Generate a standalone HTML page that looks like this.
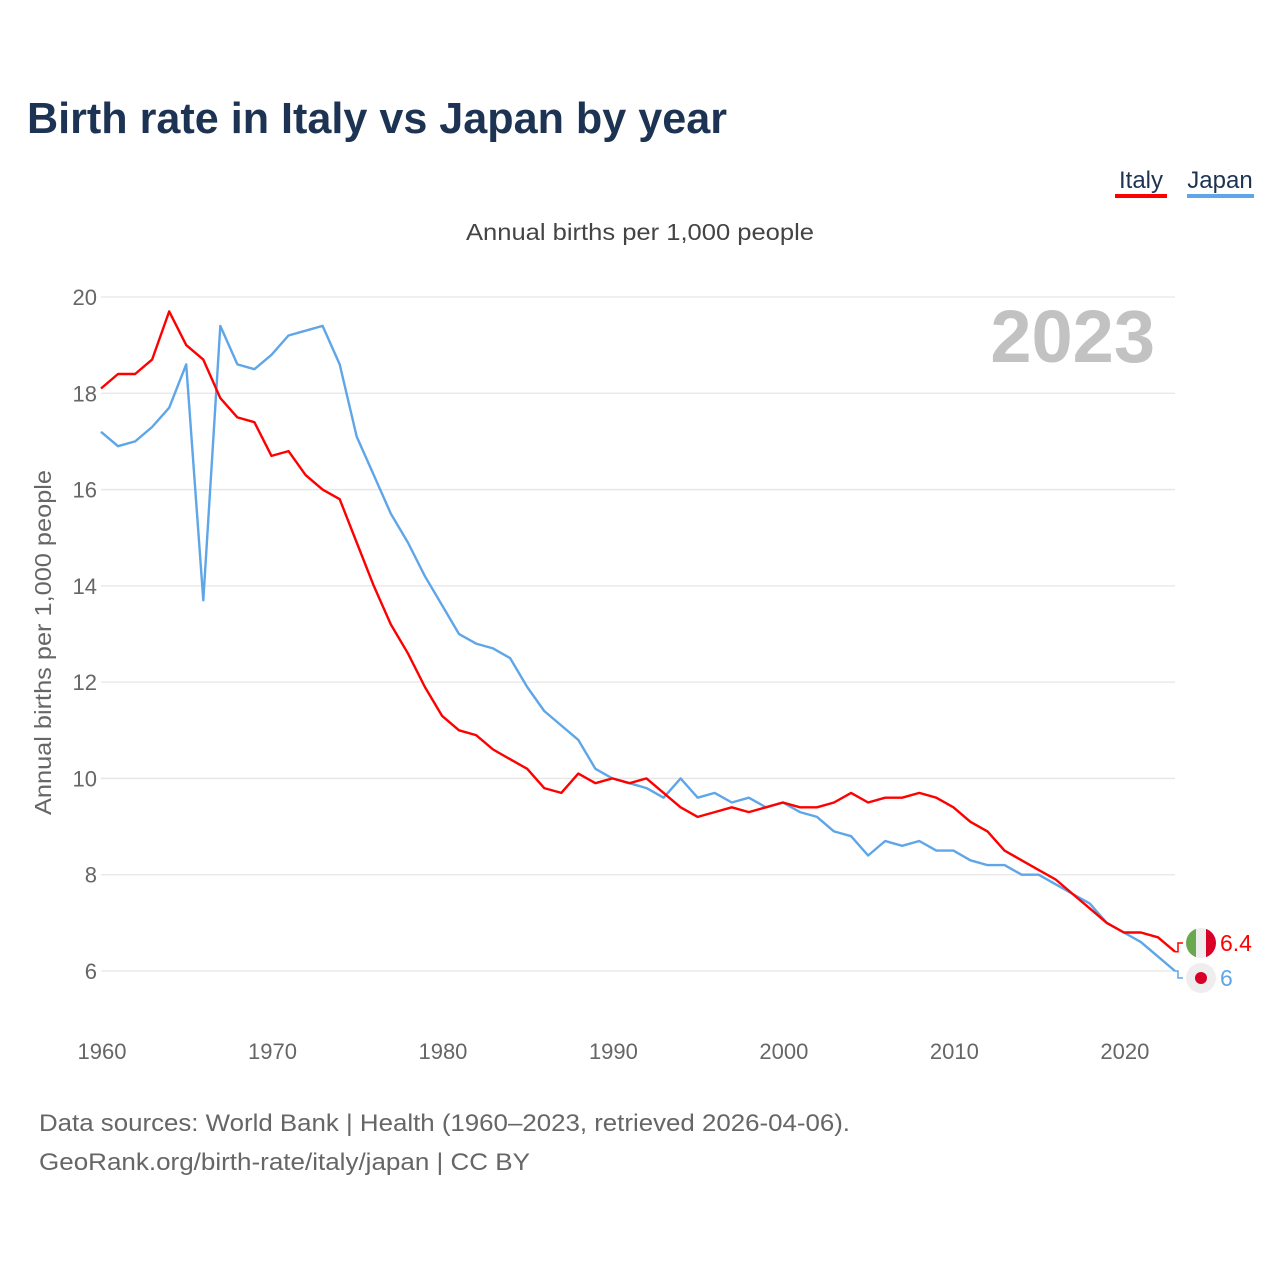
<!DOCTYPE html>
<html><head><meta charset="utf-8">
<style>
html,body{margin:0;padding:0;background:#fff;}
body{width:1280px;height:1280px;position:relative;font-family:"Liberation Sans",sans-serif;overflow:hidden;}
</style></head>
<body>
<svg id="chart" width="1280" height="1280" viewBox="0 0 1280 1280" xmlns="http://www.w3.org/2000/svg" font-family="Liberation Sans, sans-serif">
<text x="27" y="133" font-size="44" font-weight="bold" fill="#1c3353" textLength="700" lengthAdjust="spacingAndGlyphs">Birth rate in Italy vs Japan by year</text>
<g>
<text x="1141" y="188" font-size="24" fill="#1c3353" text-anchor="middle">Italy</text>
<rect x="1115" y="194" width="52" height="4" fill="#ff0000"/>
</g>
<g>
<text x="1220" y="188" font-size="24" fill="#1c3353" text-anchor="middle">Japan</text>
<rect x="1187" y="194" width="67" height="4" fill="#5ea6e8"/>
</g>
<text x="466" y="240" font-size="23" fill="#444" textLength="348" lengthAdjust="spacingAndGlyphs">Annual births per 1,000 people</text>
<text transform="translate(51,815) rotate(-90)" font-size="23" fill="#666" textLength="345" lengthAdjust="spacingAndGlyphs">Annual births per 1,000 people</text>
<text x="1155" y="362" font-size="74" font-weight="bold" fill="#c2c2c2" text-anchor="end">2023</text>
<g id="grid"></g>
<g id="xticks"></g>
<g id="series"></g>
<g id="endlabels"></g>
<text x="39" y="1131" font-size="24" fill="#666" textLength="811" lengthAdjust="spacingAndGlyphs">Data sources: World Bank | Health (1960–2023, retrieved 2026-04-06).</text>
<text x="39" y="1170" font-size="24" fill="#666" textLength="491" lengthAdjust="spacingAndGlyphs">GeoRank.org/birth-rate/italy/japan | CC BY</text>
</svg>
<script>
const years = [];
for (let y = 1960; y <= 2023; y++) years.push(y);
const italy = [18.1,18.4,18.4,18.7,19.7,19.0,18.7,17.9,17.5,17.4,16.7,16.8,16.3,16.0,15.8,14.9,14.0,13.2,12.6,11.9,11.3,11.0,10.9,10.6,10.4,10.2,9.8,9.7,10.1,9.9,10.0,9.9,10.0,9.7,9.4,9.2,9.3,9.4,9.3,9.4,9.5,9.4,9.4,9.5,9.7,9.5,9.6,9.6,9.7,9.6,9.4,9.1,8.9,8.5,8.3,8.1,7.9,7.6,7.3,7.0,6.8,6.8,6.7,6.4];
const japan = [17.2,16.9,17.0,17.3,17.7,18.6,13.7,19.4,18.6,18.5,18.8,19.2,19.3,19.4,18.6,17.1,16.3,15.5,14.9,14.2,13.6,13.0,12.8,12.7,12.5,11.9,11.4,11.1,10.8,10.2,10.0,9.9,9.8,9.6,10.0,9.6,9.7,9.5,9.6,9.4,9.5,9.3,9.2,8.9,8.8,8.4,8.7,8.6,8.7,8.5,8.5,8.3,8.2,8.2,8.0,8.0,7.8,7.6,7.4,7.0,6.8,6.6,6.3,6.0];
const yTicks = [6,8,10,12,14,16,18,20];
const xTicks = [1960,1970,1980,1990,2000,2010,2020];
const italyLabel = "6.4";
const japanLabel = "6";

const NS = "http://www.w3.org/2000/svg";
const xs = v => 101 + (v - 1960) * (1175 - 101) / 63;
const ys = v => 297 + (20 - v) * (971 - 297) / 14;
function mk(tag, attrs, parent){const e=document.createElementNS(NS,tag);for(const k in attrs)e.setAttribute(k,attrs[k]);parent.appendChild(e);return e;}

const grid = document.getElementById('grid');
yTicks.forEach(t=>{
  const l = mk('line',{x1:101,x2:1175,y1:ys(t),y2:ys(t),stroke:'#e6e6e6','stroke-width':1.3},grid);
  
  
  const tx = mk('text',{x:97,y:ys(t)+8,'font-size':22,fill:'#666','text-anchor':'end'},grid);
  tx.textContent = t;
  
  
});
const xt = document.getElementById('xticks');
xTicks.forEach(t=>{
  const tx = mk('text',{x:xs(t)+1,y:1059,'font-size':22,fill:'#666','text-anchor':'middle'},xt);
  tx.textContent = t;
  
  
});
const sg = document.getElementById('series');
function line(vals, color, name){
  const pts = vals.map((v,i)=>xs(years[i]).toFixed(1)+','+ys(v).toFixed(1)).join(' ');
  const p = mk('polyline',{points:pts,fill:'none',stroke:color,'stroke-width':2.4,'stroke-linejoin':'round'},sg);
  
  
}
line(japan,'#5ea6e8','japan-line');
line(italy,'#ff0000','italy-line');

const el = document.getElementById('endlabels');
const lastX = xs(2023);
const iy = ys(italy[italy.length-1]), jy = ys(japan[japan.length-1]);
const iLy = 943, jLy = 978;
mk('polyline',{points:`${lastX},${iy} ${lastX+3},${iy} ${lastX+3},${iLy} ${lastX+8},${iLy}`,fill:'none',stroke:'#ff0000','stroke-width':1.5},el);
mk('polyline',{points:`${lastX},${jy} ${lastX+3},${jy} ${lastX+3},${jLy} ${lastX+8},${jLy}`,fill:'none',stroke:'#5ea6e8','stroke-width':1.5},el);
const fi = mk('g',{},el);


const cp = mk('clipPath',{id:'cI'},fi);
mk('circle',{cx:1201,cy:iLy,r:15},cp);
const gI = mk('g',{'clip-path':'url(#cI)'},fi);
mk('rect',{x:1186,y:iLy-15,width:10,height:30,fill:'#6aa84f'},gI);
mk('rect',{x:1196,y:iLy-15,width:10,height:30,fill:'#eeeeee'},gI);
mk('rect',{x:1206,y:iLy-15,width:10,height:30,fill:'#d80027'},gI);
const fj = mk('g',{},el);


mk('circle',{cx:1201,cy:jLy,r:15,fill:'#eeeeee'},fj);
mk('circle',{cx:1201,cy:jLy,r:6,fill:'#d80027'},fj);
const ti = mk('text',{x:1220,y:iLy+8,'font-size':23,fill:'#ff0000'},el);
ti.textContent = italyLabel;


const tj = mk('text',{x:1220,y:jLy+8,'font-size':23,fill:'#5ea6e8'},el);
tj.textContent = japanLabel;


</script>
</body></html>
